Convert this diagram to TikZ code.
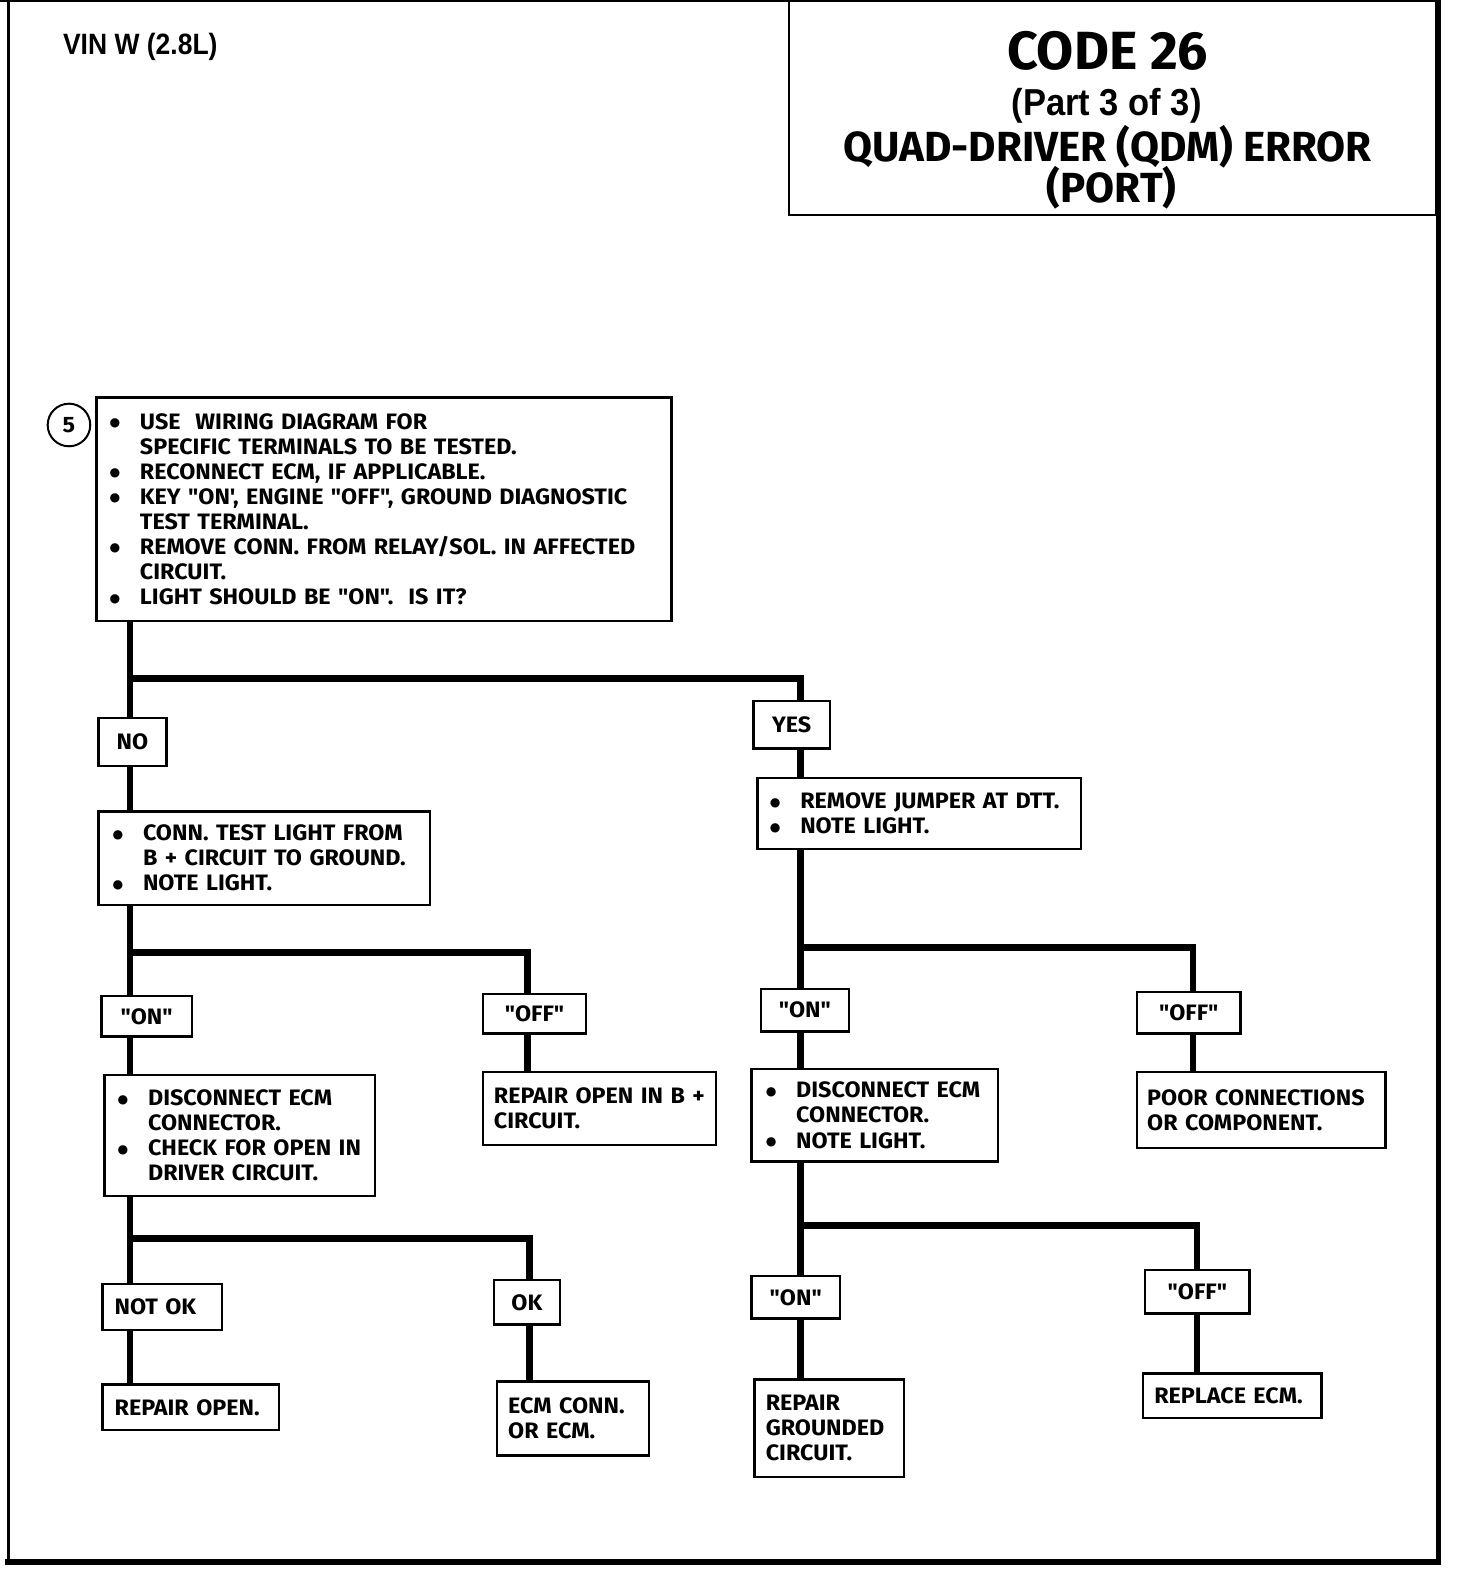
\documentclass[tikz,border=0pt]{standalone}
\usepackage{fontspec}
\usepackage{graphicx}
\newfontfamily\bxfont{Fira Sans}[FakeStretch=1.045]
\newfontfamily\arialfont{Liberation Sans}
\newfontfamily\ttlfont{Fira Sans}
\newfontfamily\dotfont{DejaVu Sans}
\newcommand\bxsz{\bxfont\bfseries\fontsize{22}{24.7}\selectfont}
\newcommand\bu{\makebox[30pt][l]{\raisebox{2.5pt}{\dotfont\fontsize{12}{12}\selectfont ●}}}
\newcommand\ind{\hspace*{30pt}}
\tikzset{
  tb/.style n args={3}{draw, line width=2.4pt, fill=white, minimum width=#1, minimum height=#2,
     text width=#3, inner xsep=0pt, inner ysep=0pt, align=left, font=\bxsz},
  lb/.style n args={2}{draw, line width=2.4pt, fill=white, minimum width=#1, minimum height=#2,
     inner sep=0pt, font=\bxsz},
  wire/.style={line width=6.5pt},
  frame/.style={line width=#1}
}
\begin{document}
\begin{tikzpicture}[x=1pt,y=-1pt,scale=1.0143,transform shape]
\useasboundingbox (0,0) rectangle (1451.2,1567.6);
% frame
\draw[frame=3pt] (8.5,0) -- (8.5,1543);
\draw[frame=1.5pt] (0,1) -- (1421,1);
\draw[frame=5pt] (1418.5,0) -- (1418.5,1543);
\draw[frame=6pt] (5,1540) -- (1421,1540);
% title
\node[draw, line width=2pt, minimum width=638, minimum height=211, anchor=north west, inner sep=0pt] (ttl) at (777,0) {};
\node[font=\ttlfont\bfseries\fontsize{53}{53}\selectfont, inner sep=0pt] (t1) at (1092,50) {CODE 26};
\node[font=\arialfont\bfseries\fontsize{37}{37}\selectfont, inner sep=0pt] (t2) at (1091,104) {\scalebox{0.92}[1]{(Part 3 of 3)}};
\node[font=\ttlfont\bfseries\fontsize{41.5}{41.5}\selectfont, inner sep=0pt] (t3) at (1092,145) {QUAD-DRIVER (QDM) ERROR};
\node[font=\ttlfont\bfseries\fontsize{41.5}{41.5}\selectfont, inner sep=0pt] (t4) at (1096,185) {(PORT)};
\node[font=\arialfont\bfseries\fontsize{29}{29}\selectfont, inner sep=0pt, anchor=west] (vin) at (62,46) {\scalebox{0.9}[1]{VIN W (2.8L)}};
% columns and junctions
\coordinate (cL) at (128,0);
\coordinate (cL2) at (520,0);
\coordinate (cL3) at (522,0);
\coordinate (cR) at (789,0);
\coordinate (cR2) at (1176,0);
\coordinate (cR3) at (1180,0);
\coordinate (j1) at (128,669);
\coordinate (j2) at (128,939);
\coordinate (j3) at (128,1221);
\coordinate (j4) at (789,934);
\coordinate (j5) at (789,1208);
% wires
\draw[wire] (j1) -| (cR |- 691,691);
\draw[wire] (j2) -| (cL2 |- 980,980);
\draw[wire] (j3) -| (cL3 |- 1262,1262);
\draw[wire] (j4) -| (cR2 |- 978,978);
\draw[wire] (j5) -| (cR3 |- 1252,1252);
% boxes
\node[tb={567}{220}{541}] (main) at (378.5,502) {\bu USE\ \ WIRING DIAGRAM FOR\\ \ind SPECIFIC TERMINALS TO BE TESTED.\\ \bu RECONNECT ECM, IF APPLICABLE.\\ \bu KEY "ON', ENGINE "OFF", GROUND DIAGNOSTIC\\ \ind TEST TERMINAL.\\ \bu REMOVE CONN. FROM RELAY/SOL. IN AFFECTED\\ \ind CIRCUIT.\\ \bu LIGHT SHOULD BE "ON".\ \ IS IT?};
\node[circle, draw, line width=2pt, minimum size=42, inner sep=0pt, font=\bxsz] (five) at (68,419) {5};
\node[lb={67}{47}] (NO) at (130.5,731.5) {NO};
\node[lb={75}{47}] (YES) at (780.5,714.5) {YES};
\node[tb={327}{92}{299}] (B) at (260.5,846) {\bu CONN. TEST LIGHT FROM\\ \ind B + CIRCUIT TO GROUND.\\ \bu NOTE LIGHT.};
\node[tb={319}{70}{295}] (E) at (906.5,802) {\bu REMOVE JUMPER AT DTT.\\ \bu NOTE LIGHT.};
\node[lb={89}{40}] (ON1) at (144.5,1002) {"ON"};
\node[lb={102}{39}] (OFF1) at (527,999.5) {"OFF"};
\node[lb={87}{42}] (ON2) at (793.5,996) {"ON"};
\node[lb={102}{41}] (OFF2) at (1172,998.5) {"OFF"};
\node[tb={267}{119}{241}] (C) at (236.5,1119.5) {\bu DISCONNECT ECM\\ \ind CONNECTOR.\\ \bu CHECK FOR OPEN IN\\ \ind DRIVER CIRCUIT.};
\node[tb={230}{72}{208}] (D) at (591,1093) {REPAIR OPEN IN B +\\ CIRCUIT.};
\node[tb={243}{91}{215}] (F) at (862.5,1099.5) {\bu DISCONNECT ECM\\ \ind CONNECTOR.\\ \bu NOTE LIGHT.};
\node[tb={245}{75}{225}] (G) at (1243.5,1094.5) {POOR CONNECTIONS\\ OR COMPONENT.};
\node[tb={118}{45}{94}] (NOTOK) at (160,1288.5) {NOT OK};
\node[lb={65}{44}] (OK) at (519.5,1284) {OK};
\node[lb={87}{42}] (ON3) at (784.5,1279) {"ON"};
\node[lb={103}{43}] (OFF3) at (1180.5,1273.5) {"OFF"};
\node[tb={174}{45}{150}] (RO) at (188,1387.5) {REPAIR OPEN.};
\node[tb={150}{73}{128}] (EC) at (565,1398.5) {ECM CONN.\\ OR ECM.};
\node[tb={147}{96}{125}] (RG) at (817.5,1408) {REPAIR\\ GROUNDED\\ CIRCUIT.};
\node[tb={176}{44}{154}] (RE) at (1215,1376) {REPLACE ECM.};
% vertical connectors between boxes
\draw[wire] (main.south -| cL) -- (NO.north -| cL);
\draw[wire] (NO.south -| cL) -- (B.north -| cL);
\draw[wire] (B.south -| cL) -- (ON1.north -| cL);
\draw[wire] (ON1.south -| cL) -- (C.north -| cL);
\draw[wire] (OFF1.south -| cL2) -- (D.north -| cL2);
\draw[wire] (C.south -| cL) -- (NOTOK.north -| cL);
\draw[wire] (NOTOK.south -| cL) -- (RO.north -| cL);
\draw[wire] (OK.south -| cL3) -- (EC.north -| cL3);
\draw[wire] (YES.south -| cR) -- (E.north -| cR);
\draw[wire] (E.south -| cR) -- (ON2.north -| cR);
\draw[wire] (ON2.south -| cR) -- (F.north -| cR);
\draw[wire] (OFF2.south -| cR2) -- (G.north -| cR2);
\draw[wire] (F.south -| cR) -- (ON3.north -| cR);
\draw[wire] (ON3.south -| cR) -- (RG.north -| cR);
\draw[wire] (OFF3.south -| cR3) -- (RE.north -| cR3);
\end{tikzpicture}
\end{document}
